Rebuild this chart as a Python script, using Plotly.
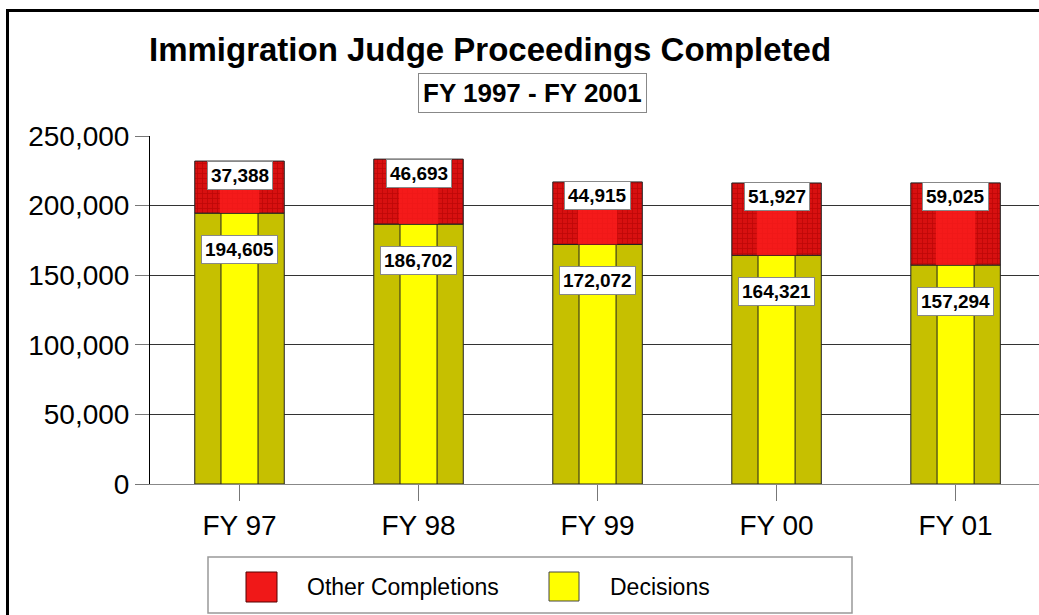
import plotly.graph_objects as go

categories = ["FY 97", "FY 98", "FY 99", "FY 00", "FY 01"]
decisions = [194605, 186702, 172072, 164321, 157294]
other_completions = [37388, 46693, 44915, 51927, 59025]
totals = [d + o for d, o in zip(decisions, other_completions)]

W, H = 1039, 615
L, R, T, B = 150, 0, 136, 131
PW, PH = W - L - R, H - T - B


def px(x):
    return (x - L) / PW


def py(y):
    return (H - B - y) / PH


FONT = "Liberation Sans, Arial, Helvetica, sans-serif"

fig = go.Figure()

# Decisions: olive outer body
fig.add_trace(go.Bar(
    x=categories, y=decisions, width=0.5, name="Decisions",
    marker=dict(color="#C6C000", line=dict(color="#222222", width=1)),
    showlegend=False,
))
# Decisions: yellow center strip
fig.add_trace(go.Bar(
    x=categories, y=decisions, width=0.207, name="Decisions",
    marker=dict(color="#FFFF00", line=dict(color="#222222", width=1)),
    showlegend=False, hoverinfo="skip",
))
# Other completions: red textured body
fig.add_trace(go.Bar(
    x=categories, y=other_completions, base=decisions, width=0.5,
    name="Other Completions",
    marker=dict(color="#D81010", line=dict(color="#222222", width=1),
                pattern=dict(shape="+", fgcolor="#A00000", bgcolor="#D81010",
                             size=5, solidity=0.3)),
    showlegend=False,
))
# Other completions: brighter center highlight
fig.add_trace(go.Bar(
    x=categories, y=other_completions, base=decisions, width=0.22,
    name="Other Completions",
    marker=dict(color="rgba(255,30,30,0.75)", line=dict(width=0)),
    showlegend=False, hoverinfo="skip",
))

annotations = []
for c, d, t, o in zip(categories, decisions, totals, other_completions):
    annotations.append(dict(
        x=c, y=t, xref="x", yref="y", text=f"{o:,}", showarrow=False,
        yshift=-14, yanchor="middle",
        font=dict(family=FONT, size=19, color="black", weight="bold"),
        bgcolor="white", bordercolor="#888888", borderwidth=1, borderpad=3,
    ))
    annotations.append(dict(
        x=c, y=d, xref="x", yref="y", text=f"{d:,}", showarrow=False,
        yshift=-36, yanchor="middle",
        font=dict(family=FONT, size=19, color="black", weight="bold"),
        bgcolor="white", bordercolor="#888888", borderwidth=1, borderpad=3,
    ))

# Title and subtitle
annotations.append(dict(
    x=px(490), y=py(50), xref="paper", yref="paper",
    text="Immigration Judge Proceedings Completed", showarrow=False,
    xanchor="center", yanchor="middle",
    font=dict(family=FONT, size=33, color="black", weight="bold"),
))
annotations.append(dict(
    x=px(532), y=py(93), xref="paper", yref="paper",
    text="FY 1997 - FY 2001", showarrow=False,
    xanchor="center", yanchor="middle",
    font=dict(family=FONT, size=26, color="black", weight="bold"),
    bgcolor="white", bordercolor="#888888", borderwidth=1, borderpad=4,
))

# Legend texts
annotations.append(dict(
    x=px(305), y=py(587), xref="paper", yref="paper",
    text="Other Completions", showarrow=False, xanchor="left", yanchor="middle",
    font=dict(family=FONT, size=23, color="black"),
))
annotations.append(dict(
    x=px(608), y=py(587), xref="paper", yref="paper",
    text="Decisions", showarrow=False, xanchor="left", yanchor="middle",
    font=dict(family=FONT, size=23, color="black"),
))

shapes = [
    # outer frame (left and top)
    dict(type="line", xref="paper", yref="paper", x0=px(7.5), x1=px(7.5),
         y0=py(10.5), y1=py(700), line=dict(color="black", width=3)),
    dict(type="line", xref="paper", yref="paper", x0=px(6), x1=px(1100),
         y0=py(10.5), y1=py(10.5), line=dict(color="black", width=3)),
    # legend box
    dict(type="rect", xref="paper", yref="paper", x0=px(208), x1=px(852),
         y0=py(557), y1=py(613), line=dict(color="#999999", width=1.5),
         fillcolor="white"),
    dict(type="rect", xref="paper", yref="paper", x0=px(246), x1=px(277),
         y0=py(572), y1=py(602), line=dict(color="#550000", width=1),
         fillcolor="#F01818"),
    dict(type="rect", xref="paper", yref="paper", x0=px(549), x1=px(579),
         y0=py(572), y1=py(601), line=dict(color="#444444", width=1),
         fillcolor="#FFFF00"),
]

fig.update_layout(
    width=W, height=H, barmode="overlay",
    margin=dict(l=L, r=R, t=T, b=B, pad=0),
    paper_bgcolor="white", plot_bgcolor="white",
    font=dict(family=FONT, color="black"),
    annotations=annotations, shapes=shapes,
    showlegend=False,
)
fig.update_xaxes(
    range=[-0.5, 4.466], showline=True, linecolor="#888888", linewidth=1,
    ticks="outside", ticklen=16, tickcolor="#777777", tickwidth=1,
    tickfont=dict(family=FONT, size=28, color="black"), showgrid=False,
)
fig.update_yaxes(
    range=[0, 250000], dtick=50000, tickformat=",",
    showgrid=True, gridcolor="#333333", gridwidth=1,
    showline=True, linecolor="black", linewidth=1, zeroline=False,
    ticks="outside", ticklen=14, tickcolor="#777777", tickwidth=1,
    tickfont=dict(family=FONT, size=28, color="black"),
)

fig.write_html(
    "out.html",
    config={"displayModeBar": False},
    post_script="document.body.style.margin='0';document.body.style.overflow='hidden';",
)
